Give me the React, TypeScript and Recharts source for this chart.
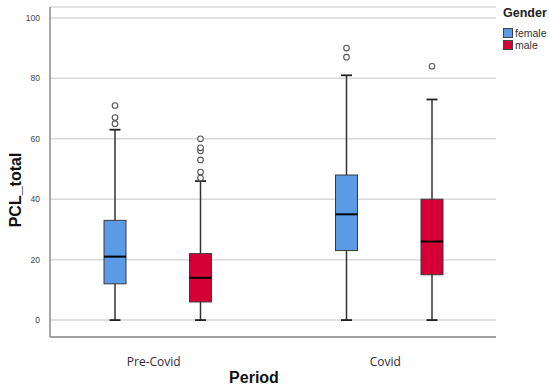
import React from 'react';
import { ComposedChart, Bar, XAxis, YAxis, CartesianGrid, Legend } from 'recharts';

// values (PCL_total by period and gender)
const periods = ['Pre-Covid', 'Covid'];
const yTicks = [0, 20, 40, 60, 80, 100];

const femaleMin = [0, 0];
const femaleQ1 = [12, 23];
const femaleMedian = [21, 35];
const femaleQ3 = [33, 48];
const femaleMax = [63, 81];
const femaleOutliers = [[65, 67, 71], [87, 90]];

const maleMin = [0, 0];
const maleQ1 = [6, 15];
const maleMedian = [14, 26];
const maleQ3 = [22, 40];
const maleMax = [46, 73];
const maleOutliers = [[47, 49, 53, 56, 57, 60], [84]];

const FEMALE = '#5b9be6';
const MALE = '#d40035';

const data = periods.map((period, i) => ({
  period,
  female: { min: femaleMin[i], q1: femaleQ1[i], median: femaleMedian[i], q3: femaleQ3[i], max: femaleMax[i], outliers: femaleOutliers[i] },
  male: { min: maleMin[i], q1: maleQ1[i], median: maleMedian[i], q3: maleQ3[i], max: maleMax[i], outliers: maleOutliers[i] },
}));

// bar spans min..max, everything else is placed with the same pixel-per-unit
const makeBox = (key: 'female' | 'male', color: string) => (props: any) => {
  const { x, y, width, height, payload } = props;
  const s = payload[key];
  const unit = height / (s.max - s.min);
  const py = (v: number) => y + (s.max - v) * unit;
  const cx = x + width / 2;
  const cap = 5.5;
  return (
    <g>
      <line x1={cx} x2={cx} y1={py(s.max)} y2={py(s.min)} stroke="#333" strokeWidth={1.5} />
      <line x1={cx - cap} x2={cx + cap} y1={py(s.max)} y2={py(s.max)} stroke="#222" strokeWidth={1.8} />
      <line x1={cx - cap} x2={cx + cap} y1={py(s.min)} y2={py(s.min)} stroke="#222" strokeWidth={1.8} />
      <rect x={x} y={py(s.q3)} width={width} height={py(s.q1) - py(s.q3)} fill={color} stroke="#3a3a3a" strokeWidth={1} />
      <line x1={x} x2={x + width} y1={py(s.median)} y2={py(s.median)} stroke="#000" strokeWidth={2} />
      {s.outliers.map((o: number, j: number) => (
        <circle key={j} cx={cx} cy={py(o)} r={2.8} fill="#fff" stroke="#555" strokeWidth={1.1} />
      ))}
    </g>
  );
};

const renderLegend = (props: any) => {
  const { payload } = props;
  return (
    <div style={{ fontFamily: 'Liberation Sans, Arial, sans-serif' }}>
      <div style={{ fontWeight: 'bold', fontSize: 12.5, lineHeight: '15px', color: '#222', marginBottom: 6 }}>Gender</div>
      {payload.map((p: any) => (
        <div key={p.value} style={{ display: 'flex', alignItems: 'center', height: 12, fontSize: 10.5, color: '#333' }}>
          <span style={{ display: 'inline-block', width: 8, height: 8, background: p.color, border: '1px solid #444', marginRight: 2 }} />
          {p.value}
        </div>
      ))}
    </div>
  );
};

export default function App() {
  return (
    <div style={{ position: 'absolute', left: 0, top: 0, width: 550, height: 388, background: '#fff' }}>
      <ComposedChart
        width={550}
        height={388}
        data={data}
        margin={{ top: 7, right: 54, bottom: 0, left: 0 }}
        barSize={22}
        barGap={63.5}
      >
        <CartesianGrid horizontal vertical={false} stroke="#d9d9d9" strokeWidth={1.5} />
        <XAxis
          dataKey="period"
          height={51}
          padding={{ left: -8, right: -9 }}
          tickLine={false}
          tickMargin={14}
          axisLine={{ stroke: '#8c8c8c', strokeWidth: 1.5 }}
          tick={{ fontSize: 12, fill: '#2b2b3b', fontFamily: 'Open Sans, sans-serif', dx: -4 }}
          label={{ value: 'Period', position: 'insideBottom', offset: 5, dx: -19, fontSize: 16, fontWeight: 'bold', fill: '#111', fontFamily: 'Liberation Sans, Arial, sans-serif' }}
        />
        <YAxis
          width={50}
          type="number"
          domain={[-5.6, 103.6]}
          ticks={yTicks}
          tickLine={false}
          tickMargin={4}
          axisLine={{ stroke: '#8c8c8c', strokeWidth: 1.5 }}
          tick={{ fontSize: 8.5, fill: '#444', fontFamily: 'Liberation Sans, Arial, sans-serif' }}
          label={{ value: 'PCL_total', angle: -90, position: 'center', dx: -10, dy: 18, fontSize: 16, fontWeight: 'bold', fill: '#111', fontFamily: 'Liberation Sans, Arial, sans-serif' }}
        />
        <Legend
          layout="horizontal"
          align="center"
          verticalAlign="middle"
          content={renderLegend}
          wrapperStyle={{ left: 503, top: 6, width: 50, right: 'auto', bottom: 'auto' }}
        />
        <Bar
          name="female"
          dataKey={(d: any) => [d.female.min, d.female.max]}
          fill={FEMALE}
          shape={makeBox('female', FEMALE)}
          isAnimationActive={false}
        />
        <Bar
          name="male"
          dataKey={(d: any) => [d.male.min, d.male.max]}
          fill={MALE}
          shape={makeBox('male', MALE)}
          isAnimationActive={false}
        />
      </ComposedChart>
    </div>
  );
}
